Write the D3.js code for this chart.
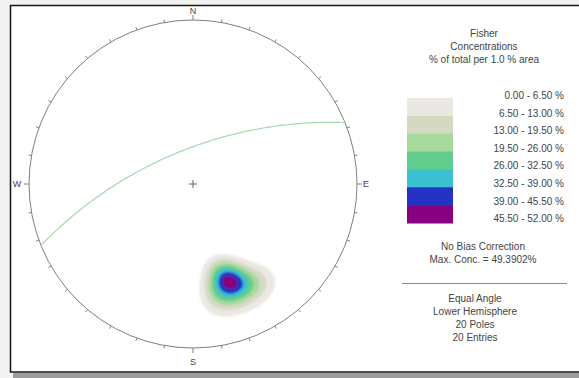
<!DOCTYPE html>
<html>
<head>
<meta charset="utf-8">
<script src="https://cdn.jsdelivr.net/npm/d3@7"></script>
<style>
  body { margin: 0; background: #f2f2f2; }
  svg { display: block; font-family: "Liberation Sans", Arial, sans-serif; }
</style>
</head>
<body>
<svg id="chart" width="579" height="378"></svg>
<script>
// pole orientations (trend / plunge in degrees)
const poleTrend = [160, 160, 159, 158, 163, 158, 154, 151, 146, 153, 157, 163, 169, 169, 166, 165, 154, 162, 144, 165]
const polePlunge = [24, 26, 23, 26, 32, 31, 28, 24, 18, 18, 18, 18, 18, 23, 28, 23, 21, 30, 19, 36]

// mean plane shown as the green great circle
const planeDipDir = 338
const planeDip = 66

const levels = [6.5, 13, 19.5, 26, 32.5, 39, 45.5]
const bandColors = ['#ebe8e4', '#d5d9c2', '#a6d99c', '#62cc8c', '#3cbfd0', '#2433c4', '#86007f']
const legendLabels = ['0.00 - 6.50 %', '6.50 - 13.00 %', '13.00 - 19.50 %', '19.50 - 26.00 %',
  '26.00 - 32.50 %', '32.50 - 39.00 %', '39.00 - 45.50 %', '45.50 - 52.00 %']
const titleLines = ['Fisher', 'Concentrations', '% of total per 1.0 % area']
const infoLines = ['No Bias Correction', 'Max. Conc. = 49.3902%']
const footLines = ['Equal Angle', 'Lower Hemisphere', '20 Poles', '20 Entries']
const compass = [['N', 0], ['E', 90], ['S', 180], ['W', 270]]
const fisherK = 100

const cx = 193, cy = 184, R = 164
const rad = Math.PI / 180
const ink = '#444'

const svg = d3.select('#chart')

// page background, drop shadow and frame
svg.append('rect').attr('width', 579).attr('height', 378).attr('fill', '#f2f2f2')
svg.append('rect').attr('x', 13).attr('y', 373).attr('width', 580).attr('height', 10).attr('fill', '#9c9c9c')
svg.append('rect').attr('x', 10.5).attr('y', 5.5).attr('width', 600).attr('height', 366.5)
  .attr('fill', '#fff').attr('stroke', '#151515').attr('stroke-width', 1.5)

function project (trend, plunge) {
  const r = R * Math.tan((90 - plunge) * rad / 2)
  return [cx + r * Math.sin(trend * rad), cy - r * Math.cos(trend * rad)]
}

function toVec (trend, plunge) {
  const t = trend * rad, p = plunge * rad
  return [Math.cos(p) * Math.sin(t), Math.cos(p) * Math.cos(t), Math.sin(p)]
}

// Fisher density on a one-pixel grid over the net, as % of total per 1 % area
const poles = poleTrend.map((t, i) => toVec(t, polePlunge[i]))
const n = 2 * R + 1, x0 = cx - R, y0 = cy - R
const values = new Array(n * n).fill(0)
for (let j = 0; j < n; j++) {
  for (let i = 0; i < n; i++) {
    const dx = x0 + i - cx, dy = y0 + j - cy
    const rr = Math.sqrt(dx * dx + dy * dy) / R
    if (rr > 1) continue
    const v = toVec(Math.atan2(dx, -dy) / rad, 90 - 2 * Math.atan(rr) / rad)
    let sum = 0
    for (const q of poles) {
      const c = Math.abs(v[0] * q[0] + v[1] * q[1] + v[2] * q[2])
      sum += Math.exp(fisherK * (c - 1))
    }
    values[j * n + i] = fisherK / poles.length * sum
  }
}

const defs = svg.append('defs')
defs.append('filter').attr('id', 'soft')
  .append('feGaussianBlur').attr('stdDeviation', 1.2)

const bands = d3.contours().size([n, n]).thresholds(levels)(values)
const contourPath = d3.geoPath(d3.geoIdentity().translate([x0, y0]))
svg.append('g').attr('filter', 'url(#soft)')
  .selectAll('path')
  .data(bands)
  .join('path')
  .attr('d', contourPath)
  .attr('fill', (d, i) => bandColors[i])

// primitive circle with 10 degree ticks
svg.append('circle').attr('cx', cx).attr('cy', cy).attr('r', R)
  .attr('fill', 'none').attr('stroke', '#808080').attr('stroke-width', 1)

svg.append('g').selectAll('line')
  .data(d3.range(0, 360, 10))
  .join('line')
  .attr('x1', d => cx + R * Math.sin(d * rad))
  .attr('y1', d => cy - R * Math.cos(d * rad))
  .attr('x2', d => cx + (R + (d % 90 === 0 ? 5 : 3)) * Math.sin(d * rad))
  .attr('y2', d => cy - (R + (d % 90 === 0 ? 5 : 3)) * Math.cos(d * rad))
  .attr('stroke', '#808080')

svg.append('g').selectAll('text')
  .data(compass)
  .join('text')
  .attr('x', d => cx + (R + (d[1] === 270 ? 12 : 9)) * Math.sin(d[1] * rad))
  .attr('y', d => cy - (R + (d[1] === 180 ? 14 : 9)) * Math.cos(d[1] * rad) + 3)
  .attr('text-anchor', 'middle')
  .attr('font-size', 9)
  .attr('fill', ink)
  .text(d => d[0])

// centre cross
svg.append('path')
  .attr('d', `M${cx - 4},${cy}H${cx + 4}M${cx},${cy - 4}V${cy + 4}`)
  .attr('stroke', '#666')

// mean plane great circle
const planePts = d3.range(0, 180.5, 1).map(phi => {
  const s = (planeDipDir - 90) * rad, dd = planeDipDir * rad, dip = planeDip * rad
  const a = phi * rad
  const e = Math.cos(a) * Math.sin(s) + Math.sin(a) * Math.cos(dip) * Math.sin(dd)
  const nn = Math.cos(a) * Math.cos(s) + Math.sin(a) * Math.cos(dip) * Math.cos(dd)
  const z = Math.sin(a) * Math.sin(dip)
  return project(Math.atan2(e, nn) / rad, Math.asin(Math.min(1, z)) / rad)
})
svg.append('path')
  .attr('d', d3.line()(planePts))
  .attr('fill', 'none')
  .attr('stroke', '#a6d8ac')
  .attr('stroke-width', 1.2)

// legend
const legend = svg.append('g').attr('font-size', 10).attr('fill', ink)

legend.selectAll('text.title')
  .data(titleLines)
  .join('text')
  .attr('class', 'title')
  .attr('x', 484)
  .attr('y', (d, i) => 36.5 + i * 13)
  .attr('text-anchor', 'middle')
  .text(d => d)

const swatch = d3.scaleBand().domain(d3.range(bandColors.length)).range([98, 223])
legend.selectAll('rect')
  .data(bandColors)
  .join('rect')
  .attr('x', 407)
  .attr('y', (d, i) => swatch(i))
  .attr('width', 46)
  .attr('height', swatch.bandwidth() + 0.5)
  .attr('fill', d => d)

legend.selectAll('text.range')
  .data(legendLabels)
  .join('text')
  .attr('class', 'range')
  .attr('x', 564)
  .attr('y', (d, i) => 99 + i * 17.6)
  .attr('text-anchor', 'end')
  .text(d => d)

legend.selectAll('text.info')
  .data(infoLines)
  .join('text')
  .attr('class', 'info')
  .attr('x', 483)
  .attr('y', (d, i) => 249.5 + i * 13)
  .attr('text-anchor', 'middle')
  .text(d => d)

legend.append('line')
  .attr('x1', 402).attr('x2', 567)
  .attr('y1', 283.5).attr('y2', 283.5)
  .attr('stroke', '#8a8a8a')

legend.selectAll('text.foot')
  .data(footLines)
  .join('text')
  .attr('class', 'foot')
  .attr('x', 475)
  .attr('y', (d, i) => 301.5 + i * 13)
  .attr('text-anchor', 'middle')
  .text(d => d)
</script>
</body>
</html>
